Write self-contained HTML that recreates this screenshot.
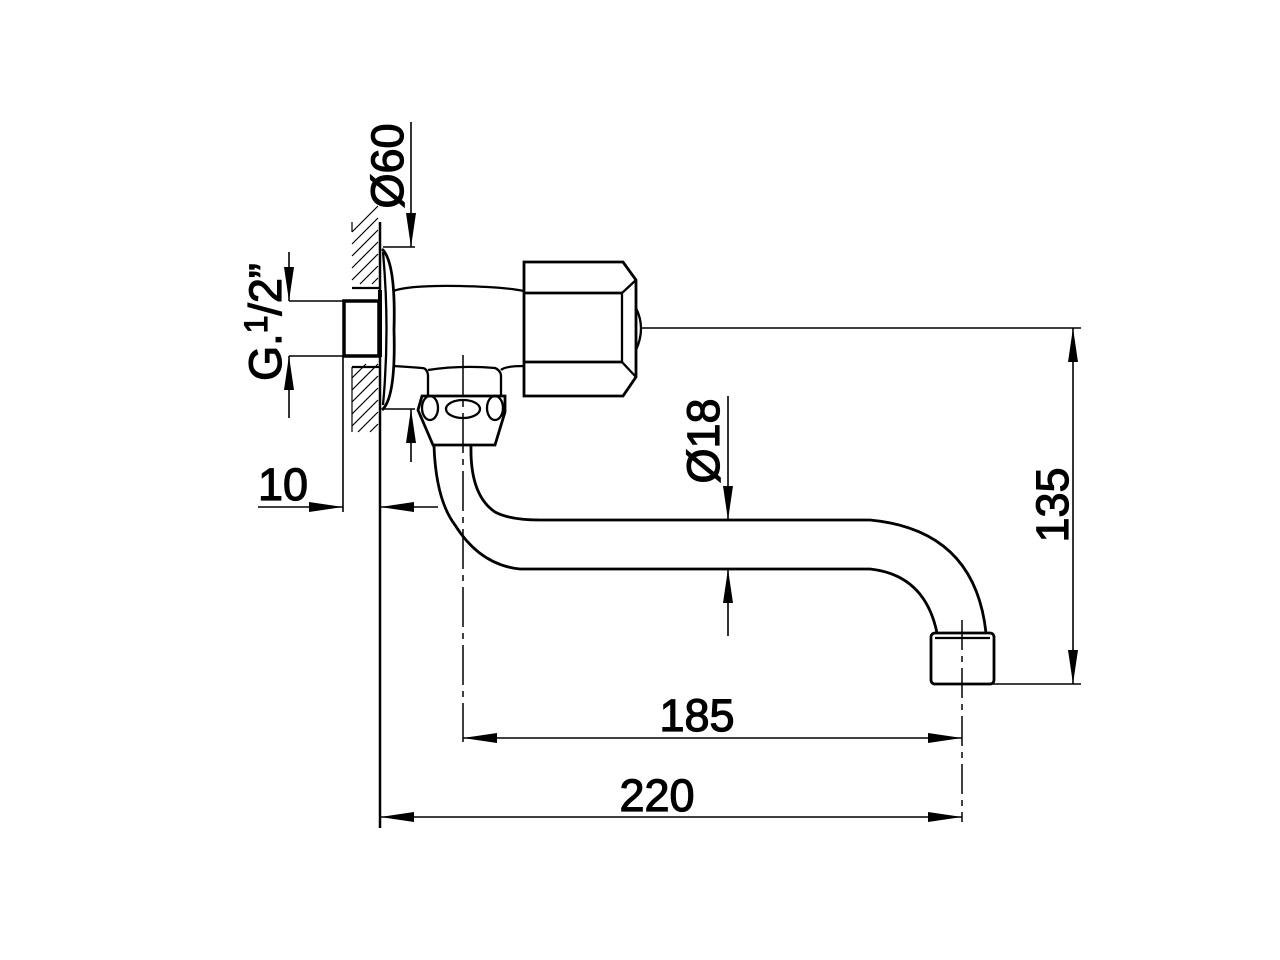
<!DOCTYPE html>
<html><head><style>html,body{margin:0;padding:0;background:#fff}svg{display:block}</style></head>
<body>
<svg width="1280" height="960" viewBox="0 0 1280 960" xmlns="http://www.w3.org/2000/svg">
<defs>
<marker id="a" viewBox="0 0 34 12" refX="34" refY="6" markerWidth="34" markerHeight="12" markerUnits="userSpaceOnUse" orient="auto-start-reverse"><path d="M0,1 L34,6 L0,11Z" fill="#000"/></marker>
</defs>
<g fill="none" stroke="#000" stroke-width="2.3">
<g stroke-width="1.2">
<path d="M352,232 l26,-26 M352,244 l26,-26 M352,256 l26,-26 M352,268 l26,-26 M352,280 l26,-26 M360,284 l18,-18 M372,284 l6,-6"/>
<path d="M352,378 l14,-14 M352,390 l26,-26 M352,402 l26,-26 M352,414 l26,-26 M352,426 l26,-26 M358,432 l20,-20 M370,432 l8,-8"/>
<path d="M352,222 v10 M352,367 v65"/>
</g>
<line x1="380" y1="222" x2="380" y2="828" stroke-width="2.5"/>
<line x1="380" y1="290" x2="380" y2="357" stroke-width="4"/>
<line x1="352" y1="288" x2="380" y2="288"/><line x1="352" y1="367" x2="380" y2="367"/>
<rect x="344" y="301" width="35" height="55" stroke-width="3.5"/>
<path d="M382,249 Q396,262 394,330 Q396,398 382,410" stroke-width="2.8"/>
<path d="M383,252 Q390,330 383,405"/>
<path d="M393,291 Q410,285 460,286 Q505,287 524,291"/>
<path d="M393,366 Q410,367 422,368 Q427,368 428,375 L428,395"/>
<path d="M428,370 Q460,365 495,368 Q500,370 501,375 L501,395"/>
<path d="M501,370 Q505,366 524,366"/>
<path d="M524,262 L623,262 L636,280 L636,377 L623,396 L524,396Z" stroke-width="2.8"/>
<line x1="524" y1="293" x2="622" y2="293" stroke-width="2.8"/>
<line x1="524" y1="362" x2="622" y2="362" stroke-width="2.8"/>
<path d="M622,293 L636,280 M622,293 L622,362 L636,377"/>
<path d="M636,308 Q646,328 636,350"/>
<line x1="642" y1="328" x2="1081" y2="328" stroke-width="1.5"/>
<path d="M422,396 L505,396 L505,412 L495,445 L433,445 L418,410Z" stroke-width="2.8"/>
<ellipse cx="463" cy="409" rx="17" ry="9"/>
<ellipse cx="430" cy="408" rx="8" ry="12"/>
<ellipse cx="495" cy="408" rx="8" ry="12"/>
<path d="M434,446 Q436,500 455,525 Q480,565 520,569 L870,569 Q925,575 937,633" stroke-width="2.8"/>
<path d="M471,446 Q470,495 495,512 Q510,520 540,520 L870,520 Q975,530 986,633" stroke-width="2.8"/>
<rect x="931" y="633" width="63" height="51" rx="4" stroke-width="2.8"/>
<line x1="935" y1="638" x2="990" y2="638"/>
<line x1="463" y1="355" x2="463" y2="742" stroke-width="1.5" stroke-dasharray="40,6,6,6"/>
<line x1="962" y1="620" x2="962" y2="822" stroke-width="1.5" stroke-dasharray="30,6,6,6"/>
<g stroke-width="1.6">
<line x1="289" y1="301" x2="343" y2="301"/><line x1="289" y1="356" x2="343" y2="356"/>
<line x1="289" y1="252" x2="289" y2="301" marker-end="url(#a)"/>
<line x1="289" y1="418" x2="289" y2="356" marker-end="url(#a)"/>
<line x1="383" y1="247" x2="415" y2="247"/><line x1="383" y1="409" x2="415" y2="409"/>
<line x1="411" y1="122" x2="411" y2="247" marker-end="url(#a)"/>
<line x1="411" y1="462" x2="411" y2="409" marker-end="url(#a)"/>
<line x1="343" y1="356" x2="343" y2="512"/>
<line x1="258" y1="507" x2="343" y2="507" marker-end="url(#a)"/>
<line x1="438" y1="507" x2="380" y2="507" marker-end="url(#a)"/>
<line x1="728" y1="396" x2="728" y2="520" marker-end="url(#a)"/>
<line x1="728" y1="636" x2="728" y2="569" marker-end="url(#a)"/>
<line x1="993" y1="684" x2="1081" y2="684"/>
<line x1="1073" y1="506" x2="1073" y2="328" marker-end="url(#a)"/>
<line x1="1073" y1="506" x2="1073" y2="684" marker-end="url(#a)"/>
<line x1="712" y1="738" x2="463" y2="738" marker-end="url(#a)"/>
<line x1="712" y1="738" x2="962" y2="738" marker-end="url(#a)"/>
<line x1="671" y1="817" x2="380" y2="817" marker-end="url(#a)"/>
<line x1="671" y1="817" x2="962" y2="817" marker-end="url(#a)"/>
</g>
</g>
<g font-family="Liberation Sans, sans-serif" font-size="45" fill="#000" stroke="#000" stroke-width="1.2">
<text x="697" y="731" text-anchor="middle">185</text>
<text x="657" y="811" text-anchor="middle">220</text>
<text x="283" y="500" text-anchor="middle">10</text>
<text transform="translate(1068,505) rotate(-90)" text-anchor="middle">135</text>
<text transform="translate(719,441) rotate(-90)" text-anchor="middle">Ø18</text>
<text transform="translate(403,166) rotate(-90)" text-anchor="middle">Ø60</text>
<text transform="translate(281,322) rotate(-90)" text-anchor="middle">G.<tspan dy="-14" font-size="32">1</tspan><tspan dy="14">/2”</tspan></text>
</g>
</svg>
</body></html>
